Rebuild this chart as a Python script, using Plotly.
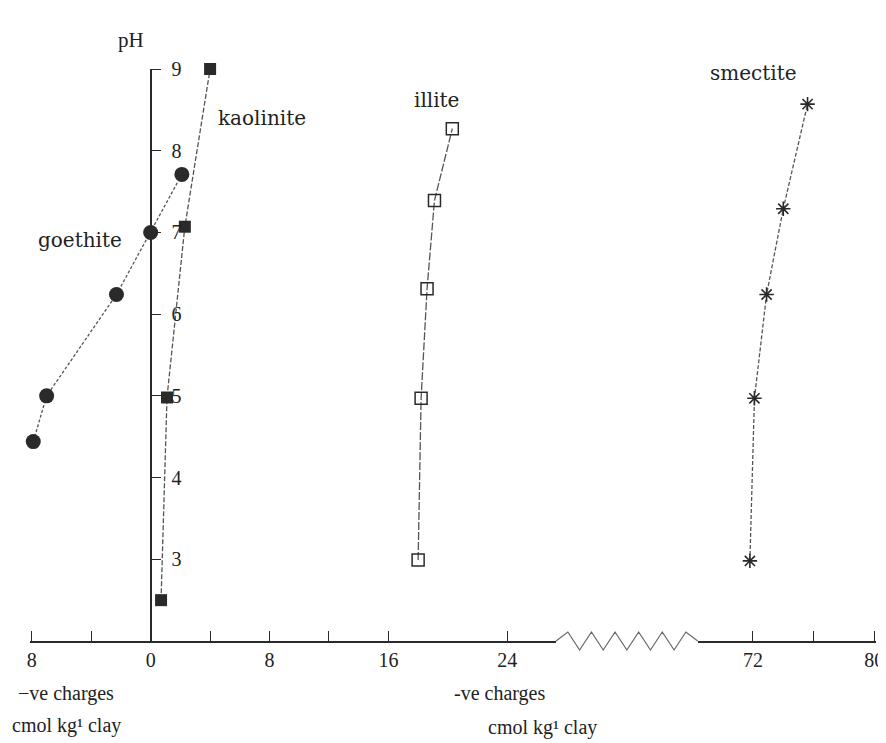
import plotly.graph_objects as go

# ---- data ----
goethite_x = [-7.9, -7.0, -2.3, 0.0, 2.1]
goethite_ph = [4.44, 5.0, 6.24, 7.0, 7.71]

kaolinite_x = [0.7, 1.1, 2.3, 4.0]
kaolinite_ph = [2.5, 4.98, 7.07, 9.0]

illite_x = [18.0, 18.2, 18.6, 19.1, 20.3]
illite_ph = [2.99, 4.97, 6.31, 7.39, 8.27]

smectite_x = [71.8, 72.1, 72.9, 74.0, 75.6]
smectite_ph = [2.98, 4.97, 6.24, 7.29, 8.57]

left_ticks = [-8, 0, 8, 16, 24]
left_ticktext = ["8", "0", "8", "16", "24"]
left_minor_ticks = [-4, 4, 12]
right_ticks = [72, 80]
right_ticktext = ["72", "80"]
right_minor_ticks = [76]
ph_ticks = [3, 4, 5, 6, 7, 8, 9]

# ---- layout helpers (pixel -> paper) ----
W_FIG, H_FIG = 886, 743
L, R, T, B = 22, 10, 61, 110
PW = W_FIG - L - R
PH = H_FIG - T - B


def px(x):
    return (x - L) / PW


def py(y):
    return (T + PH - y) / PH


SERIF = "Liberation Serif"
LABEL_FONT = dict(family="DejaVu Serif", size=20, color="#222")
TICK_FONT = dict(family=SERIF, size=20, color="#222")
INK = "#2a2a2a"
LINE = "#555555"

fig = go.Figure()

fig.add_trace(go.Scatter(
    x=goethite_x, y=goethite_ph, mode="lines+markers", name="goethite",
    line=dict(color=LINE, width=1.3, dash="3px,2px"),
    marker=dict(symbol="circle", size=15, color=INK),
    cliponaxis=False, xaxis="x", yaxis="y"))

fig.add_trace(go.Scatter(
    x=kaolinite_x, y=kaolinite_ph, mode="lines+markers", name="kaolinite",
    line=dict(color=LINE, width=1.3, dash="5px,2px"),
    marker=dict(symbol="square", size=12, color=INK),
    cliponaxis=False, xaxis="x", yaxis="y"))

fig.add_trace(go.Scatter(
    x=illite_x, y=illite_ph, mode="lines+markers", name="illite",
    line=dict(color=LINE, width=1.3, dash="8px,2px"),
    marker=dict(symbol="square-open", size=12, color=INK, line=dict(width=1.5)),
    cliponaxis=False, xaxis="x", yaxis="y"))

fig.add_trace(go.Scatter(
    x=smectite_x, y=smectite_ph, mode="lines+markers", name="smectite",
    line=dict(color=LINE, width=1.3, dash="4px,2px"),
    marker=dict(symbol="asterisk-open", size=12, color=INK, line=dict(width=1.6, color=INK)),
    cliponaxis=False, xaxis="x2", yaxis="y"))

axis_common = dict(
    showgrid=False, zeroline=False, showline=True, linecolor=INK, linewidth=1.5,
    ticks="inside", ticklen=10, tickwidth=1.2, tickcolor=INK,
    tickfont=TICK_FONT, ticklabelstandoff=0, anchor="y", fixedrange=True)

x_break_left, x_break_right = 553, 696

fig.update_layout(
    width=W_FIG, height=H_FIG,
    margin=dict(l=L, r=R, t=T, b=B),
    paper_bgcolor="white", plot_bgcolor="white",
    showlegend=False,
    xaxis=dict(domain=[0, px(x_break_left)], range=[-8.12, 27.28],
               tickmode="array", tickvals=left_ticks, ticktext=left_ticktext,
               minor=dict(tickmode="array", tickvals=left_minor_ticks, ticks="inside",
                          ticklen=10, tickwidth=1.2, tickcolor=INK, showgrid=False),
               **axis_common),
    xaxis2=dict(domain=[px(x_break_right), 1], range=[68.36, 80.11],
                tickmode="array", tickvals=right_ticks, ticktext=right_ticktext,
                minor=dict(tickmode="array", tickvals=right_minor_ticks, ticks="inside",
                           ticklen=10, tickwidth=1.2, tickcolor=INK, showgrid=False),
                **axis_common),
    yaxis=dict(domain=[0, 1], range=[2, 9], anchor="free", position=px(143.8),
               side="right", showgrid=False, zeroline=False, showline=True,
               linecolor=INK, linewidth=1.5, ticks="outside", ticklen=10,
               tickwidth=1.2, tickcolor=INK, tickmode="array", tickvals=ph_ticks,
               tickfont=TICK_FONT, ticklabelstandoff=6, fixedrange=True),
)

# axis break zigzag (decoration)
n_half = 12
pts = []
for i in range(n_half + 1):
    xx = x_break_left + (x_break_right - x_break_left) * i / n_half
    if i == 0 or i == n_half:
        yy = 633
    else:
        yy = 624 if i % 2 == 1 else 642
    pts.append((px(xx), py(yy)))
path = "M " + " L ".join(f"{a:.5f},{b:.5f}" for a, b in pts)
fig.add_shape(type="path", path=path, xref="paper", yref="paper",
              line=dict(color="#666", width=1.2))

# curve labels and axis titles
def note(text, x, y, font, xanchor="center"):
    fig.add_annotation(text=text, x=px(x), y=py(y), xref="paper", yref="paper",
                       showarrow=False, font=font, xanchor=xanchor, yanchor="middle")


note("pH", 124, 32, dict(family=SERIF, size=21, color="#222"))
note("goethite", 72, 232, LABEL_FONT)
note("kaolinite", 256, 110, LABEL_FONT)
note("illite", 432, 92, LABEL_FONT)
note("smectite", 752, 65, LABEL_FONT)

TITLE_FONT = dict(family=SERIF, size=20, color="#222")
note("\u2212ve charges", 8, 685, TITLE_FONT, xanchor="left")
note("cmol kg\u00b9 clay", 2, 717, TITLE_FONT, xanchor="left")
note("-ve charges", 448, 685, TITLE_FONT, xanchor="left")
note("cmol kg\u00b9 clay", 482, 719, TITLE_FONT, xanchor="left")

fig.write_html("out.html")
